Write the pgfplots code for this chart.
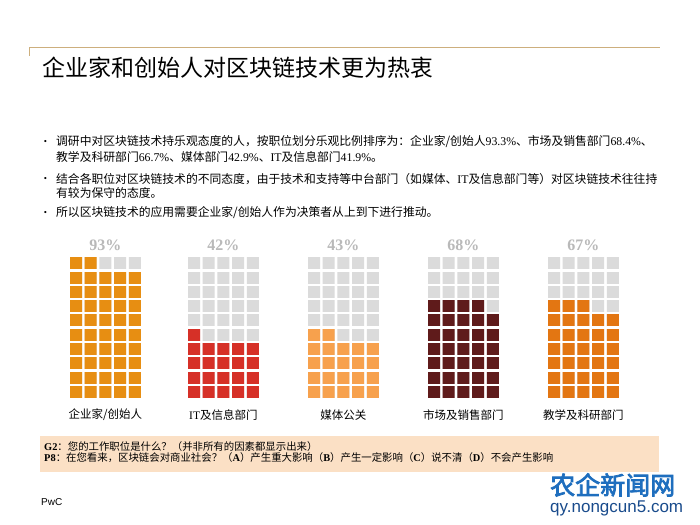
\documentclass[border=0pt]{standalone}
\usepackage{pgfplots}
\pgfplotsset{compat=1.18}
\usepackage{fontspec}
\setmainfont{Liberation Serif}
\newfontfamily\cjk{Noto Sans CJK SC}
\newfontfamily\cjkbold[FakeBold=3]{Noto Sans CJK SC}
\newfontfamily\sans{Liberation Sans}
\newcommand\lat[1]{{\rmfamily #1}}
\definecolor{cA}{RGB}{231,142,18}
\definecolor{cB}{RGB}{214,48,39}
\definecolor{cC}{RGB}{247,161,77}
\definecolor{cD}{RGB}{95,27,27}
\definecolor{cE}{RGB}{227,118,18}
\definecolor{wgrey}{RGB}{219,219,219}
\definecolor{pctgrey}{RGB}{185,185,185}
\definecolor{rulec}{RGB}{205,175,125}
\definecolor{boxc}{RGB}{251,224,197}
\definecolor{wmA}{RGB}{30,110,190}
\definecolor{wmB}{RGB}{25,75,140}
\begin{document}
\begin{tikzpicture}[x=1bp,y=1bp]
\useasboundingbox (0,0) rectangle (700,525);
\fill[white] (0,0) rectangle (700,525);
% top rule
\draw[rulec, line width=1.2bp] (29.3,469) -- (29.3,477.3) -- (660,477.3);
% title
\node[anchor=west, inner sep=0] at (42,457) {\fontsize{23bp}{26bp}\selectfont\cjk 企业家和创始人对区块链技术更为热衷};
% bullets
\begin{scope}[every node/.style={anchor=west, inner sep=0, font=\fontsize{11.8bp}{14bp}\selectfont\cjk}]
\node at (56,383) {调研中对区块链技术持乐观态度的人，按职位划分乐观比例排序为：企业家/创始人\lat{93.3\%}、市场及销售部门\lat{68.4\%}、};
\node at (56,368) {教学及科研部门\lat{66.7\%}、媒体部门\lat{42.9\%}、\lat{IT}及信息部门\lat{41.9\%}。};
\node at (56,346) {结合各职位对区块链技术的不同态度，由于技术和支持等中台部门（如媒体、\lat{IT}及信息部门等）对区块链技术往往持};
\node at (56,332) {有较为保守的态度。};
\node at (56,312) {所以区块链技术的应用需要企业家/创始人作为决策者从上到下进行推动。};
\end{scope}
\begin{scope}[every node/.style={inner sep=0, font=\fontsize{9bp}{10bp}\selectfont\rmfamily}]
\node at (45.5,383) {\textbullet};
\node at (45.5,346) {\textbullet};
\node at (45.5,312) {\textbullet};
\end{scope}
% waffle charts
\begin{axis}[at={(0bp,125.85bp)}, anchor=origin, x=1bp, y=14.3bp,
  xmin=0, xmax=700, ymin=0, ymax=10,
  axis line style={draw=none}, xtick=\empty, ytick={0,1,...,10}, yticklabels={},
  major tick length=0pt, ymajorgrids, grid style={white, line width=2.3bp},
  axis on top]
\addplot[ybar, bar shift=0pt, bar width=12bp, fill=wgrey, draw=none] coordinates {
 (76,10)(90.7,10)(105.4,10)(120.1,10)(134.8,10)
 (194,10)(208.7,10)(223.4,10)(238.1,10)(252.8,10)
 (314,10)(328.7,10)(343.4,10)(358.1,10)(372.8,10)
 (434,10)(448.7,10)(463.4,10)(478.1,10)(492.8,10)
 (554,10)(568.7,10)(583.4,10)(598.1,10)(612.8,10)};
\addplot[ybar, bar shift=0pt, bar width=12bp, fill=cA, draw=none] coordinates {
 (76,10)(90.7,10)(105.4,9)(120.1,9)(134.8,9)};
\addplot[ybar, bar shift=0pt, bar width=12bp, fill=cB, draw=none] coordinates {
 (194,5)(208.7,4)(223.4,4)(238.1,4)(252.8,4)};
\addplot[ybar, bar shift=0pt, bar width=12bp, fill=cC, draw=none] coordinates {
 (314,5)(328.7,5)(343.4,4)(358.1,4)(372.8,4)};
\addplot[ybar, bar shift=0pt, bar width=12bp, fill=cD, draw=none] coordinates {
 (434,7)(448.7,7)(463.4,7)(478.1,7)(492.8,6)};
\addplot[ybar, bar shift=0pt, bar width=12bp, fill=cE, draw=none] coordinates {
 (554,7)(568.7,7)(583.4,7)(598.1,6)(612.8,6)};
\end{axis}
% percent labels
\begin{scope}[every node/.style={inner sep=0, text=pctgrey, font=\fontsize{16bp}{18bp}\selectfont\rmfamily\bfseries}]
\node at (105.4,280) {93\%};
\node at (223.4,280) {42\%};
\node at (343.4,280) {43\%};
\node at (463.4,280) {68\%};
\node at (583.4,280) {67\%};
\end{scope}
% category labels
\begin{scope}[every node/.style={inner sep=0, font=\fontsize{11.5bp}{13bp}\selectfont\cjk}]
\node at (105.4,110) {企业家/创始人};
\node at (223.4,110) {\lat{IT}及信息部门};
\node at (343.4,110) {媒体公关};
\node at (463.4,110) {市场及销售部门};
\node at (583.4,110) {教学及科研部门};
\end{scope}
% question box
\fill[boxc] (40,53) rectangle (659,89);
\begin{scope}[every node/.style={anchor=west, inner sep=0, font=\fontsize{10.4bp}{12bp}\selectfont\cjk}]
\node at (44,78) {\lat{\bfseries G2}：您的工作职位是什么？（并非所有的因素都显示出来）};
\node at (44,67.5) {\lat{\bfseries P8}：在您看来，区块链会对商业社会？（\lat{\bfseries A}）产生重大影响（\lat{\bfseries B}）产生一定影响（\lat{\bfseries C}）说不清（\lat{\bfseries D}）不会产生影响};
\end{scope}
% footer
\node[anchor=west, inner sep=0] at (41,23) {\fontsize{10bp}{12bp}\selectfont\sans PwC};
\node[anchor=west, inner sep=0, text=wmA] at (550,40) {\fontsize{25bp}{27bp}\selectfont\cjkbold 农企新闻网};
\node[anchor=west, inner sep=0, text=wmB] at (550,17) {\fontsize{17bp}{19bp}\selectfont\sans qy.nongcun5.com};
\end{tikzpicture}
\end{document}
